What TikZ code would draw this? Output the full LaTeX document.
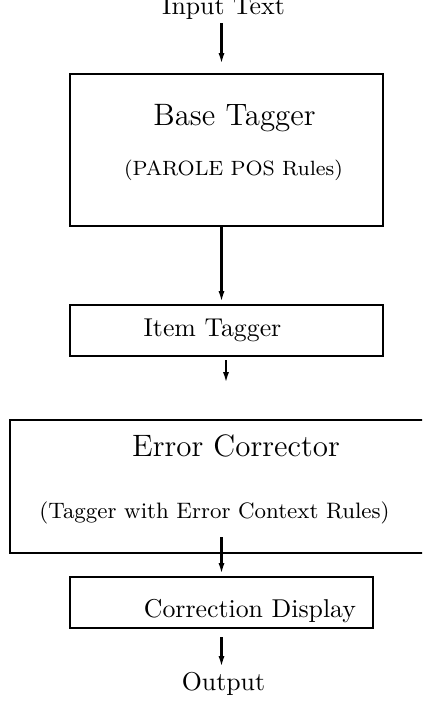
\documentclass[tikz,border=0pt]{standalone}
\usepackage{tikz}
\usetikzlibrary{arrows.meta}
\usetikzlibrary{fit}
\usetikzlibrary{calc}

\tikzset{
  box/.style={draw,line width=1pt,inner sep=0pt},
  lbl/.style={anchor=base,inner sep=0pt},
  flow/.style={-{Latex[length=4.6pt,width=2.3pt]},line width=1.1pt}
}

\begin{document}
\begin{tikzpicture}[line cap=butt,line join=miter,x=0.3876pt,y=-0.3876pt]
\clip (0,0) rectangle (422,703);
% boxes
\node[box,fit={(70,74) (383,226)}] (base) {};
\node[box,fit={(70,305) (383,356)}] (item) {};
\node[box,fit={(10,420) (440,553)}] (errc) {};
\node[box,fit={(70,577) (373,628)}] (disp) {};
% texts
\node[lbl] (intext) at (223.5,14) {Input Text};
\node[lbl] (basename) at (234.5,125) {\large Base Tagger};
\node[lbl] (baserules) at (233.5,175) {\footnotesize (PAROLE POS Rules)};
\node[lbl] (itemname) at (212.5,336) {Item Tagger};
\node[lbl] (errcname) at (236,456.7) {\large Error Corrector};
\node[lbl] (errcrules) at (214.5,518.3) {\fontsize{8.65}{10}\selectfont (Tagger with Error Context Rules)};
\node[lbl] (dispname) at (250,617) {Correction Display};
\node[lbl] (outtext) at (223.5,690) {Output};
% arrow ends
\coordinate (a1) at (221.5,23);  \coordinate (b1) at (221.5,65);
\coordinate (a2) at (221.5,226); \coordinate (b2) at (221.5,303);
\coordinate (a3) at (226,360);   \coordinate (b3) at (226,384);
\coordinate (a4) at (221.5,537); \coordinate (b4) at (221.5,575);
\coordinate (a5) at (221.5,637); \coordinate (b5) at (221.5,668);
\foreach \i in {1,...,5}
\draw[flow] (a\i) -- (b\i);
\end{tikzpicture}
\end{document}
